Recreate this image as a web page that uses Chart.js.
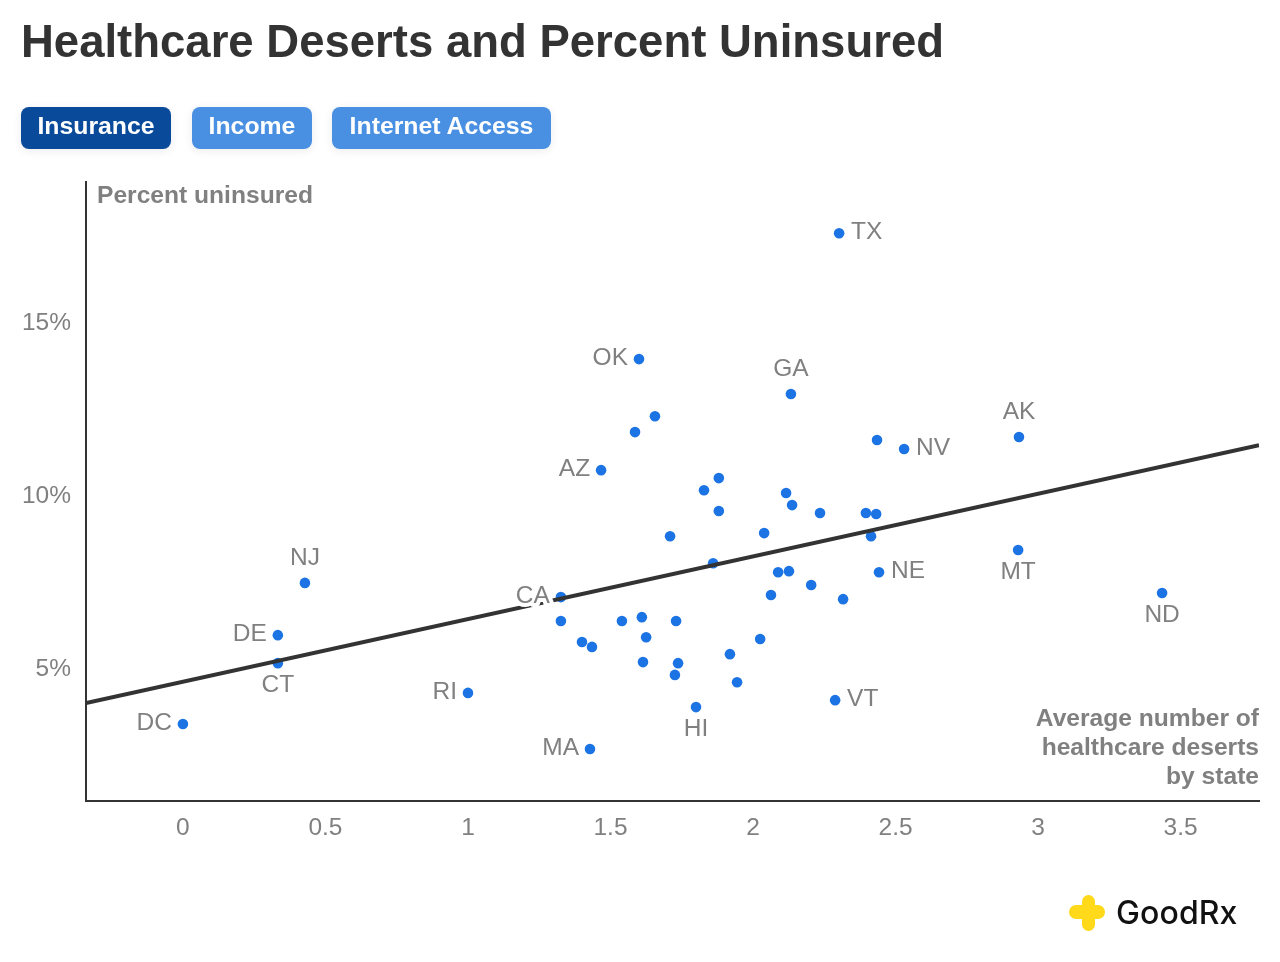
<!DOCTYPE html>
<html lang="en">
<head>
<meta charset="utf-8">
<title>Healthcare Deserts and Percent Uninsured</title>
<script src="https://cdn.jsdelivr.net/npm/chart.js@4/dist/chart.umd.min.js"></script>
<style>
html,body{margin:0;padding:0;background:#fff;width:1280px;height:962px;overflow:hidden;font-family:"Liberation Sans",Arial,sans-serif;}
#wrap{position:relative;width:1280px;height:962px;}
canvas{position:absolute;left:0;top:0;}
h1{position:absolute;left:21px;top:16px;margin:0;font-size:45.5px;line-height:52px;font-weight:700;color:#333;white-space:nowrap;}
.btn{position:absolute;top:107px;height:42px;line-height:38px;border-radius:8px;background:#4a90e2;color:#fff;font-weight:700;font-size:24.8px;text-align:center;box-shadow:0 2px 10px rgba(0,0,0,.08);white-space:nowrap;}
.btn.on{background:#0a4a9b;}
.axt{position:absolute;color:#808080;font-weight:700;font-size:24.6px;line-height:29px;white-space:nowrap;}
#xt{right:21px;top:703px;text-align:right;text-shadow:0 0 3px #fff;}
#yt{left:97px;top:180px;}
.logo{position:absolute;background:#ffd91a;}
#gr{position:absolute;left:1116px;top:892px;font-family:"Inter","Noto Sans",sans-serif;font-size:32px;line-height:42px;font-weight:500;color:#111;letter-spacing:.1px;white-space:nowrap;}
</style>
</head>
<body>
<div id="wrap">
<canvas id="c" width="1280" height="962"></canvas>
<h1>Healthcare Deserts and Percent Uninsured</h1>
<div class="btn on" style="left:21px;width:150px">Insurance</div>
<div class="btn" style="left:192px;width:120px">Income</div>
<div class="btn" style="left:332px;width:219px">Internet Access</div>
<div class="axt" id="yt">Percent uninsured</div>
<div class="axt" id="xt">Average number of<br>healthcare deserts<br>by state</div>
<div class="logo" style="left:1082px;top:895px;width:13px;height:36px;border-radius:7px"></div>
<div class="logo" style="left:1069px;top:905px;width:36px;height:14px;border-radius:7px"></div>
<div id="gr">GoodRx</div>
</div>
<script>
const stateLabels = ["TX","OK","GA","","","AK","","NV","AZ","","","","","","","","","","","","MT","","NE","","","","","","CA","ND","NJ","DE","CT","","","","","","","","","","","","","","RI","HI","VT","DC","MA"];
const labelSides = ["right","left","top","","","top","","right","left","","","","","","","","","","","","bottom","","right","","","","","","left","bottom","top","left","bottom","","","","","","","","","","","","","","left","bottom","right","left","left"];
const desertValues = [2.302,1.60,2.133,1.656,1.586,2.933,2.435,2.53,1.467,1.88,1.828,2.116,2.137,1.88,2.235,2.396,2.432,2.039,2.414,1.709,2.93,1.86,2.442,2.088,2.126,2.204,2.063,2.316,1.326,3.435,0.428,0.333,0.333,1.61,1.54,1.326,1.73,1.625,1.40,1.435,2.025,1.919,1.614,1.737,1.726,1.944,1.0,1.80,2.288,0,1.428];
const uninsuredValues = [17.60,13.96,12.95,12.31,11.85,11.71,11.62,11.36,10.75,10.52,10.17,10.09,9.74,9.57,9.51,9.51,9.48,8.93,8.84,8.84,8.44,8.06,7.80,7.80,7.83,7.43,7.14,7.02,7.08,7.20,7.49,5.98,5.17,6.50,6.39,6.39,6.39,5.92,5.78,5.64,5.87,5.43,5.20,5.17,4.83,4.62,4.31,3.90,4.10,3.41,2.69];
const trendX = [-0.34,3.775];
const trendY = [4.02,11.47];
const xRange = [-0.34,3.775];
const yRange = [1.185,19.08];
const yTicks = [5,10,15];

const stateLabelPlugin = {
  id:"stateLabels",
  afterDatasetsDraw(chart){
    const {ctx,scales:{x,y}} = chart;
    ctx.save();
    ctx.font = '24.5px "Liberation Sans"';
    ctx.textBaseline = "middle";
    ctx.lineJoin = "round";
    stateLabels.forEach((t,i)=>{
      if(!t) return;
      let px = x.getPixelForValue(desertValues[i]), py = y.getPixelForValue(uninsuredValues[i]);
      const s = labelSides[i];
      if(s==="right"){ctx.textAlign="left";px+=12;py-=1;}
      else if(s==="left"){ctx.textAlign="right";px-=11;py-=1;}
      else if(s==="top"){ctx.textAlign="center";py-=25;}
      else {ctx.textAlign="center";py+=22;}
      ctx.strokeStyle="#fff";ctx.lineWidth=8;ctx.strokeText(t,px,py);
      ctx.fillStyle="#808080";ctx.fillText(t,px,py);
    });
    ctx.restore();
  }
};

new Chart(document.getElementById("c"),{
  type:"scatter",
  data:{datasets:[
    {label:"Trend",type:"line",order:1,data:trendX.map((v,i)=>({x:v,y:trendY[i]})),borderColor:"#333",borderWidth:4,pointRadius:0,fill:false,tension:0},
    {label:"States",order:2,data:desertValues.map((v,i)=>({x:v,y:uninsuredValues[i]})),backgroundColor:"#1c73e3",borderColor:"#1c73e3",pointRadius:5.3,pointBorderWidth:0}
  ]},
  options:{
    responsive:false,animation:false,
    layout:{padding:{left:0,top:182,right:21,bottom:0}},
    plugins:{legend:{display:false},tooltip:{enabled:false}},
    scales:{
      x:{type:"linear",min:xRange[0],max:xRange[1],
        afterFit(s){s.height=161;},
        grid:{display:false,drawTicks:false},
        border:{display:true,color:"#333",width:2},
        ticks:{stepSize:.5,includeBounds:false,padding:13,color:"#808080",maxRotation:0,callback:v=>String(v),font:{family:"Liberation Sans",size:24.5}}},
      y:{type:"linear",min:yRange[0],max:yRange[1],
        afterFit(s){s.width=86;},
        afterBuildTicks(s){s.ticks=yTicks.map(v=>({value:v}));},
        grid:{display:false,drawTicks:false},
        border:{display:true,color:"#333",width:2},
        ticks:{padding:15,color:"#808080",callback:v=>v+"%",font:{family:"Liberation Sans",size:24.5}}}
    }
  },
  plugins:[stateLabelPlugin]
});
</script>
</body>
</html>
